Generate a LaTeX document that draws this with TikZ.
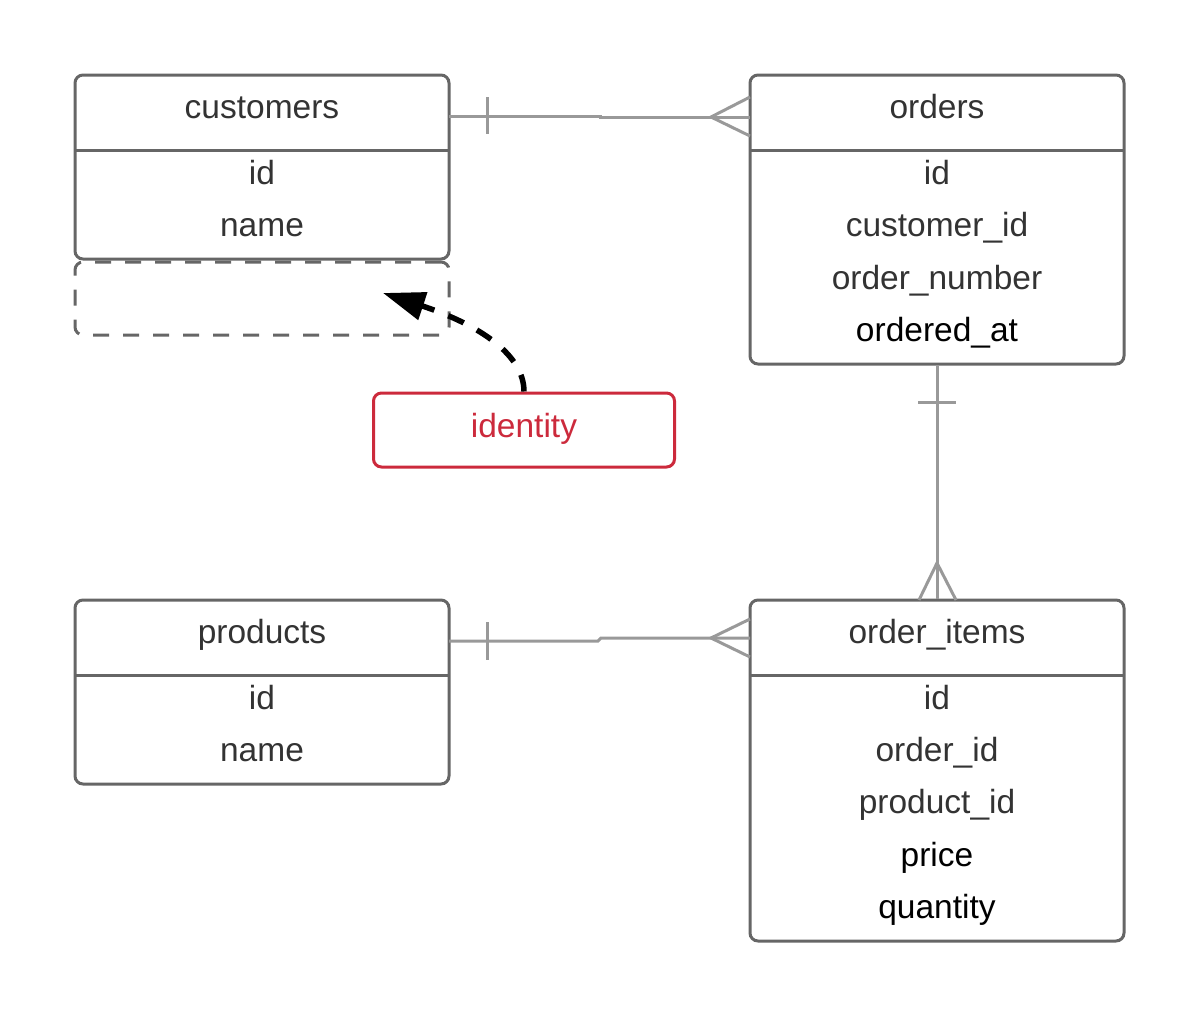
\documentclass[tikz,border=0pt]{standalone}
\usepackage{fontspec}
\setmainfont{Liberation Sans}
\usetikzlibrary{arrows.meta}
\definecolor{boxgray}{HTML}{666666}
\definecolor{linkgray}{HTML}{999999}
\definecolor{txtgray}{HTML}{333333}
\definecolor{idred}{HTML}{CC2A3C}
\tikzset{
  tbl/.style={draw=boxgray, line width=3pt, rounded corners=8pt, inner sep=0pt, fill=none},
  ghost/.style={draw=boxgray, line width=3pt, rounded corners=8pt, dash pattern=on 16pt off 14pt, inner sep=0pt},
  hdr/.style={draw=boxgray, line width=3pt},
  ttl/.style={anchor=base, text=txtgray, font=\fontsize{33.5}{40}\selectfont, inner sep=0pt},
  fld/.style={anchor=base, text=txtgray, font=\fontsize{33.5}{40}\selectfont, inner sep=0pt},
  fldb/.style={anchor=base, text=black, font=\fontsize{33.5}{40}\selectfont, inner sep=0pt},
  link/.style={draw=linkgray, line width=3pt},
  redbox/.style={draw=idred, line width=3pt, rounded corners=8pt, minimum width=301pt, minimum height=74pt, inner sep=0pt},
  arr/.style={draw=black, line width=5.5pt, dash pattern=on 17pt off 15pt, -{Triangle[length=42pt,width=28pt]}}
}
\begin{document}
\begin{tikzpicture}[x=1pt,y=-1pt]
\useasboundingbox (0,0) rectangle (1200,1018);
% customers
\node[tbl, minimum width=374pt, minimum height=184pt] (cust) at (262,167) {};
\draw[hdr] (75,150) -- (449,150);
\node[ttl] (custt) at (262,118) {customers};
\node[fld] (custid) at (262,184) {id};
\node[fld] (custname) at (262,236) {name};
\node[ghost, minimum width=374pt, minimum height=73pt] (ghost) at (262,298.5) {};
% orders
\node[tbl, minimum width=374pt, minimum height=289pt] (ord) at (937,219.5) {};
\draw[hdr] (750,150) -- (1124,150);
\node[ttl] (ordt) at (937,118) {orders};
\node[fld] (ordid) at (937,184) {id};
\node[fld] (ordcid) at (937,236) {customer\_id};
\node[fld] (ordnum) at (937,289) {order\_number};
\node[fldb] (ordat) at (937,341) {ordered\_at};
% products
\node[tbl, minimum width=374pt, minimum height=184pt] (prod) at (262,692) {};
\draw[hdr] (75,675) -- (449,675);
\node[ttl] (prodt) at (262,643) {products};
\node[fld] (prodid) at (262,709) {id};
\node[fld] (prodname) at (262,761) {name};
% order_items
\node[tbl, minimum width=374pt, minimum height=341pt] (oi) at (937,770.5) {};
\draw[hdr] (750,675) -- (1124,675);
\node[ttl] (oit) at (937,643) {order\_items};
\node[fld] (oiid) at (937,709) {id};
\node[fld] (oioid) at (937,761) {order\_id};
\node[fld] (oipid) at (937,813) {product\_id};
\node[fldb] (oiprice) at (937,866) {price};
\node[fldb] (oiqty) at (937,918) {quantity};
% identity
\node[redbox] (ident) at (524,430) {};
\node[anchor=base, text=idred, font=\fontsize{33.5}{40}\selectfont, inner sep=0pt] (identt) at (524,437) {identity};
% customers -- orders
\draw[link] (449,116) -- (600,116) -- (600,117) -- (750,117);
\draw[link] (487,97) -- (487,134);
\draw[link] (750,97) -- (711,117) -- (750,136);
% orders -- order_items
\draw[link] (ord.south) -- (oi.north);
\draw[link] (918,402) -- (956,402);
\draw[link] (919,600) -- (937,563) -- (956,600);
% products -- order_items
\draw[link] (449,641) -- (598,641) -- (601,638) -- (750,638);
\draw[link] (487,622) -- (487,660);
\draw[link] (750,619) -- (711,638) -- (750,657);
% identity arrow
\coordinate (tip) at (383,293);
\draw[arr] (ident.north) .. controls (524,355) and (480,325) .. (tip);
\end{tikzpicture}
\end{document}
